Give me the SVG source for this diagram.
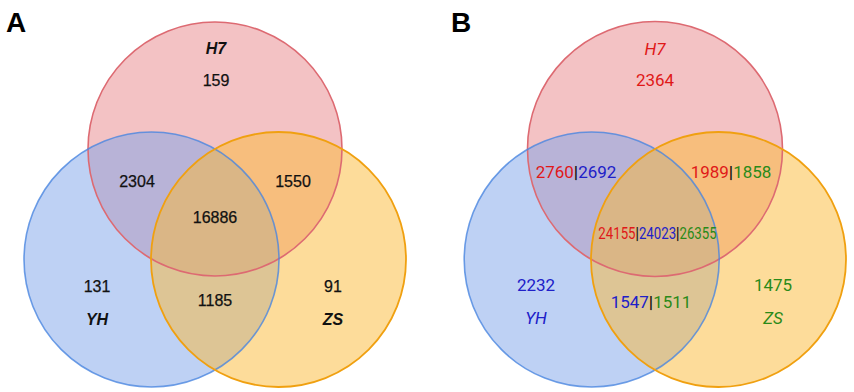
<svg xmlns="http://www.w3.org/2000/svg" width="854" height="392" viewBox="0 0 854 392">
<style>
.h7{fill:#e8858a;fill-opacity:0.5}
.yh{fill:#7ea3ea;fill-opacity:0.5}
.zs{fill:#fcb935;fill-opacity:0.5}
.h7s{fill:none;stroke:#dd6a72;stroke-width:1.6}
.yhs{fill:none;stroke:#4a86e0;stroke-width:1.6;stroke-opacity:0.8}
.zss{fill:none;stroke:#f0a010;stroke-width:1.8}
.pl{font-family:"Liberation Sans",Arial,sans-serif;font-weight:bold;font-size:28px;fill:#000}
.ta{font-family:"Liberation Sans",Arial,sans-serif;font-size:16px;fill:#111;text-anchor:middle;stroke:#111;stroke-width:0.25}
.la{font-family:"Liberation Sans",Arial,sans-serif;font-size:16px;font-style:italic;font-weight:bold;fill:#111;text-anchor:middle}
.tb{font-family:Roboto,"Liberation Sans",sans-serif;font-size:17px;text-anchor:middle}
.lb{font-family:Roboto,"Liberation Sans",sans-serif;font-size:17px;font-style:italic;text-anchor:middle}
.r{fill:#e01818}.b{fill:#2020c8}.g{fill:#2a8a18}.k{fill:#111;font-weight:bold}
</style>
<text class="pl" x="6" y="32">A</text>
<text class="pl" x="451" y="32">B</text>
<g id="panelA">
<g id="A-H7"><circle class="h7" cx="215" cy="149" r="127"/></g>
<g id="A-YH"><circle class="yh" cx="151.5" cy="259.5" r="127.5"/></g>
<g id="A-ZS"><circle class="zs" cx="278.5" cy="259.5" r="127.5"/></g>
<circle class="h7s" cx="215" cy="149" r="127"/>
<circle class="yhs" cx="151.5" cy="259.5" r="127.5"/>
<circle class="zss" cx="278.5" cy="259.5" r="127.5"/>
<text class="la" x="216" y="54">H7</text>
<text class="ta" x="216" y="86">159</text>
<text class="ta" x="137" y="187">2304</text>
<text class="ta" x="293" y="187">1550</text>
<text class="ta" x="215" y="223">16886</text>
<text class="ta" x="97" y="292">131</text>
<text class="la" x="97" y="325">YH</text>
<text class="ta" x="215" y="306">1185</text>
<text class="ta" x="333" y="292">91</text>
<text class="la" x="333" y="325">ZS</text>
</g>
<g id="panelB">
<g id="B-H7"><circle class="h7" cx="655" cy="149" r="127.5"/></g>
<g id="B-YH"><circle class="yh" cx="591.7" cy="259.5" r="127.5"/></g>
<g id="B-ZS"><circle class="zs" cx="718.5" cy="259.5" r="127.5"/></g>
<circle class="h7s" cx="655" cy="149" r="127.5"/>
<circle class="yhs" cx="591.7" cy="259.5" r="127.5"/>
<circle class="zss" cx="718.5" cy="259.5" r="127.5"/>
<text class="lb r" x="655" y="55">H7</text>
<text class="tb r" x="655" y="86">2364</text>
<text class="tb" x="576" y="178"><tspan class="r">2760</tspan><tspan class="k">|</tspan><tspan class="b">2692</tspan></text>
<text class="tb" x="731" y="178"><tspan class="r">1989</tspan><tspan class="k">|</tspan><tspan class="g">1858</tspan></text>
<text class="tb" transform="translate(657.5,239) scale(0.78,1)" x="0" y="0"><tspan class="r">24155</tspan><tspan class="k">|</tspan><tspan class="b">24023</tspan><tspan class="k">|</tspan><tspan class="g">26355</tspan></text>
<text class="tb b" x="536" y="291">2232</text>
<text class="lb b" x="536" y="324">YH</text>
<text class="tb" x="651" y="308"><tspan class="b">1547</tspan><tspan class="k">|</tspan><tspan class="g">1511</tspan></text>
<text class="tb g" x="773" y="291">1475</text>
<text class="lb g" x="773" y="324">ZS</text>
</g>
</svg>
